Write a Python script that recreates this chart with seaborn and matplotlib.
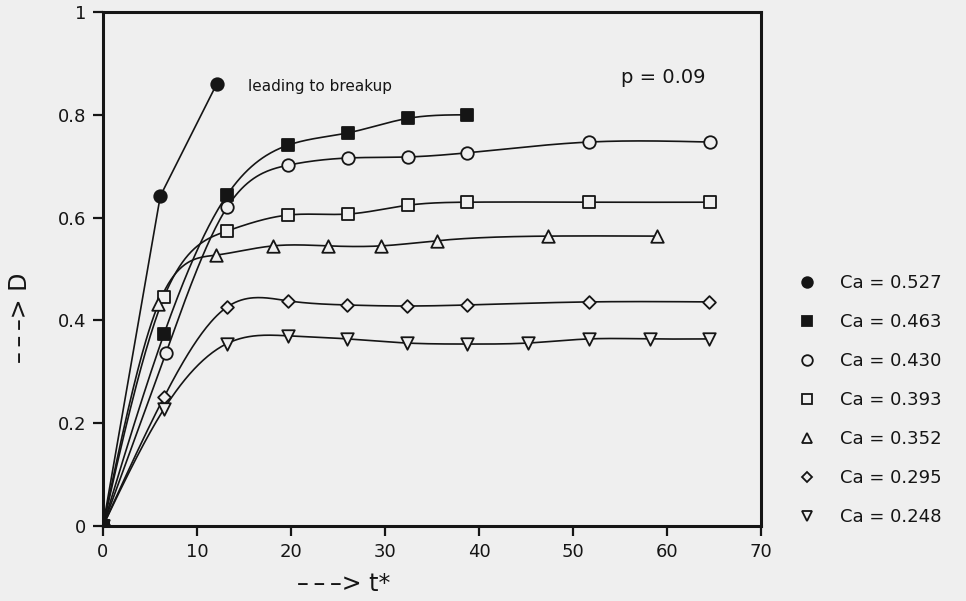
import numpy as np
import pandas as pd
import matplotlib
matplotlib.use("Agg")
import matplotlib.pyplot as plt
from matplotlib.lines import Line2D
import seaborn as sns

# Deformation D versus dimensionless time t* for several capillary numbers
t_527 = [0, 6.1, 12.1]
D_527 = [0, 0.642, 0.860]

t_463 = [0, 6.5, 13.2, 19.7, 26.1, 32.4, 38.7]
D_463 = [0, 0.374, 0.644, 0.741, 0.765, 0.793, 0.800]

t_430 = [0, 6.7, 13.2, 19.7, 26.1, 32.4, 38.7, 51.7, 64.6]
D_430 = [0, 0.337, 0.620, 0.702, 0.716, 0.718, 0.726, 0.747, 0.747]

t_393 = [0, 6.5, 13.2, 19.7, 26.1, 32.4, 38.7, 51.7, 64.6]
D_393 = [0, 0.446, 0.574, 0.605, 0.607, 0.624, 0.630, 0.630, 0.630]

t_352 = [0, 5.9, 12.0, 18.1, 23.9, 29.6, 35.5, 47.3, 58.9]
D_352 = [0, 0.432, 0.527, 0.545, 0.545, 0.545, 0.555, 0.564, 0.564]

t_295 = [0, 6.5, 13.2, 19.7, 26.0, 32.3, 38.7, 51.7, 64.5]
D_295 = [0, 0.251, 0.426, 0.438, 0.430, 0.428, 0.430, 0.436, 0.436]

t_248 = [0, 6.5, 13.2, 19.7, 26.0, 32.3, 38.7, 45.2, 51.7, 58.2, 64.5]
D_248 = [0, 0.228, 0.355, 0.370, 0.364, 0.356, 0.354, 0.356, 0.364, 0.364, 0.364]

ca_labels = ["Ca = 0.527", "Ca = 0.463", "Ca = 0.430", "Ca = 0.393",
             "Ca = 0.352", "Ca = 0.295", "Ca = 0.248"]
x_ticks = [0, 10, 20, 30, 40, 50, 60, 70]
y_ticks = [0, 0.2, 0.4, 0.6, 0.8, 1.0]
y_ticklabels = ["0", "0.2", "0.4", "0.6", "0.8", "1"]

BG = "#efefef"
INK = "#151515"

sns.set_theme(style="ticks")
plt.rcParams["font.family"] = ["DejaVu Sans"]
plt.rcParams["figure.facecolor"] = BG
plt.rcParams["axes.facecolor"] = BG


def natural_spline(x, y, xs):
    """Natural cubic spline through (x, y), evaluated at xs."""
    x = np.asarray(x, float)
    y = np.asarray(y, float)
    n = len(x)
    h = np.diff(x)
    A = np.zeros((n, n))
    r = np.zeros(n)
    A[0, 0] = A[-1, -1] = 1.0
    for i in range(1, n - 1):
        A[i, i - 1] = h[i - 1]
        A[i, i] = 2 * (h[i - 1] + h[i])
        A[i, i + 1] = h[i]
        r[i] = 6 * ((y[i + 1] - y[i]) / h[i] - (y[i] - y[i - 1]) / h[i - 1])
    M = np.linalg.solve(A, r)
    idx = np.clip(np.searchsorted(x, xs) - 1, 0, n - 2)
    hh = h[idx]
    a = x[idx + 1] - xs
    b = xs - x[idx]
    return (M[idx] * a**3 / (6 * hh) + M[idx + 1] * b**3 / (6 * hh)
            + (y[idx] / hh - M[idx] * hh / 6) * a
            + (y[idx + 1] / hh - M[idx + 1] * hh / 6) * b)


series = [
    (t_527, D_527, ca_labels[0], "o", INK, 9.0, False),
    (t_463, D_463, ca_labels[1], "s", INK, 8.0, True),
    (t_430, D_430, ca_labels[2], "o", BG, 9.0, True),
    (t_393, D_393, ca_labels[3], "s", BG, 8.0, True),
    (t_352, D_352, ca_labels[4], "^", BG, 9.0, True),
    (t_295, D_295, ca_labels[5], "D", BG, 6.5, True),
    (t_248, D_248, ca_labels[6], "v", BG, 9.0, True),
]

fig = plt.figure(figsize=(9.66, 6.01), dpi=100)
ax = fig.add_axes([0.1066, 0.1248, 0.6812, 0.8552])

handles = []
for t, D, lab, mk, fc, ms, smooth in series:
    t = np.asarray(t, float)
    D = np.asarray(D, float)
    if smooth:
        ts = np.linspace(t[0], t[-1], 400)
        Ds = natural_spline(t, D, ts)
    else:
        ts, Ds = t, D
    curve = pd.DataFrame({"t": ts, "D": Ds})
    sns.lineplot(data=curve, x="t", y="D", ax=ax, color=INK, lw=1.2,
                 sort=False, estimator=None, zorder=2)
    pts = pd.DataFrame({"t": t, "D": D})
    z = 5 if lab == ca_labels[1] else 3
    sns.scatterplot(data=pts, x="t", y="D", ax=ax, marker=mk, s=ms**2,
                    facecolor=fc, edgecolor=INK, linewidth=1.3, zorder=z)
    handles.append(Line2D([], [], ls="none", marker=mk, markersize=ms * 0.85,
                          markerfacecolor=fc, markeredgecolor=INK,
                          markeredgewidth=1.3, label=lab))

ax.set_xlim(0, 70)
ax.set_ylim(0, 1)
ax.set_xticks(x_ticks)
ax.set_xticklabels([str(v) for v in x_ticks])
ax.set_yticks(y_ticks)
ax.set_yticklabels(y_ticklabels)
ax.set_xlabel("")
ax.set_ylabel("")
for side in ["left", "bottom", "top", "right"]:
    ax.spines[side].set_visible(True)
    ax.spines[side].set_linewidth(2.2)
    ax.spines[side].set_color(INK)
ax.tick_params(axis="both", direction="out", length=7, width=1.6,
               color=INK, labelsize=13, labelcolor=INK, pad=5)
ax.tick_params(axis="x", top=False)
ax.tick_params(axis="y", right=False)

ax.text(15.4, 0.855, "leading to breakup", fontsize=11, color=INK,
        ha="left", va="center")
ax.text(55.1, 0.873, "p = 0.09", fontsize=14, color=INK,
        ha="left", va="center")

dash_arrow = "\u2013\u2009\u2013\u2009\u2013>"
fig.text(344 / 966, 1 - 584 / 601, dash_arrow + " t*", fontsize=17,
         color=INK, ha="center", va="center")
fig.text(20 / 966, 1 - 318 / 601, dash_arrow + " D", fontsize=17,
         color=INK, ha="center", va="center", rotation=90)

fig.legend(handles=handles, loc="upper left",
           bbox_to_anchor=(782 / 966, 1 - 258 / 601),
           bbox_transform=fig.transFigure, frameon=False, fontsize=13,
           handlelength=1.0, handletextpad=1.3, labelspacing=1.16,
           labelcolor=INK)

fig.savefig("out.png", dpi=100, facecolor=BG)
